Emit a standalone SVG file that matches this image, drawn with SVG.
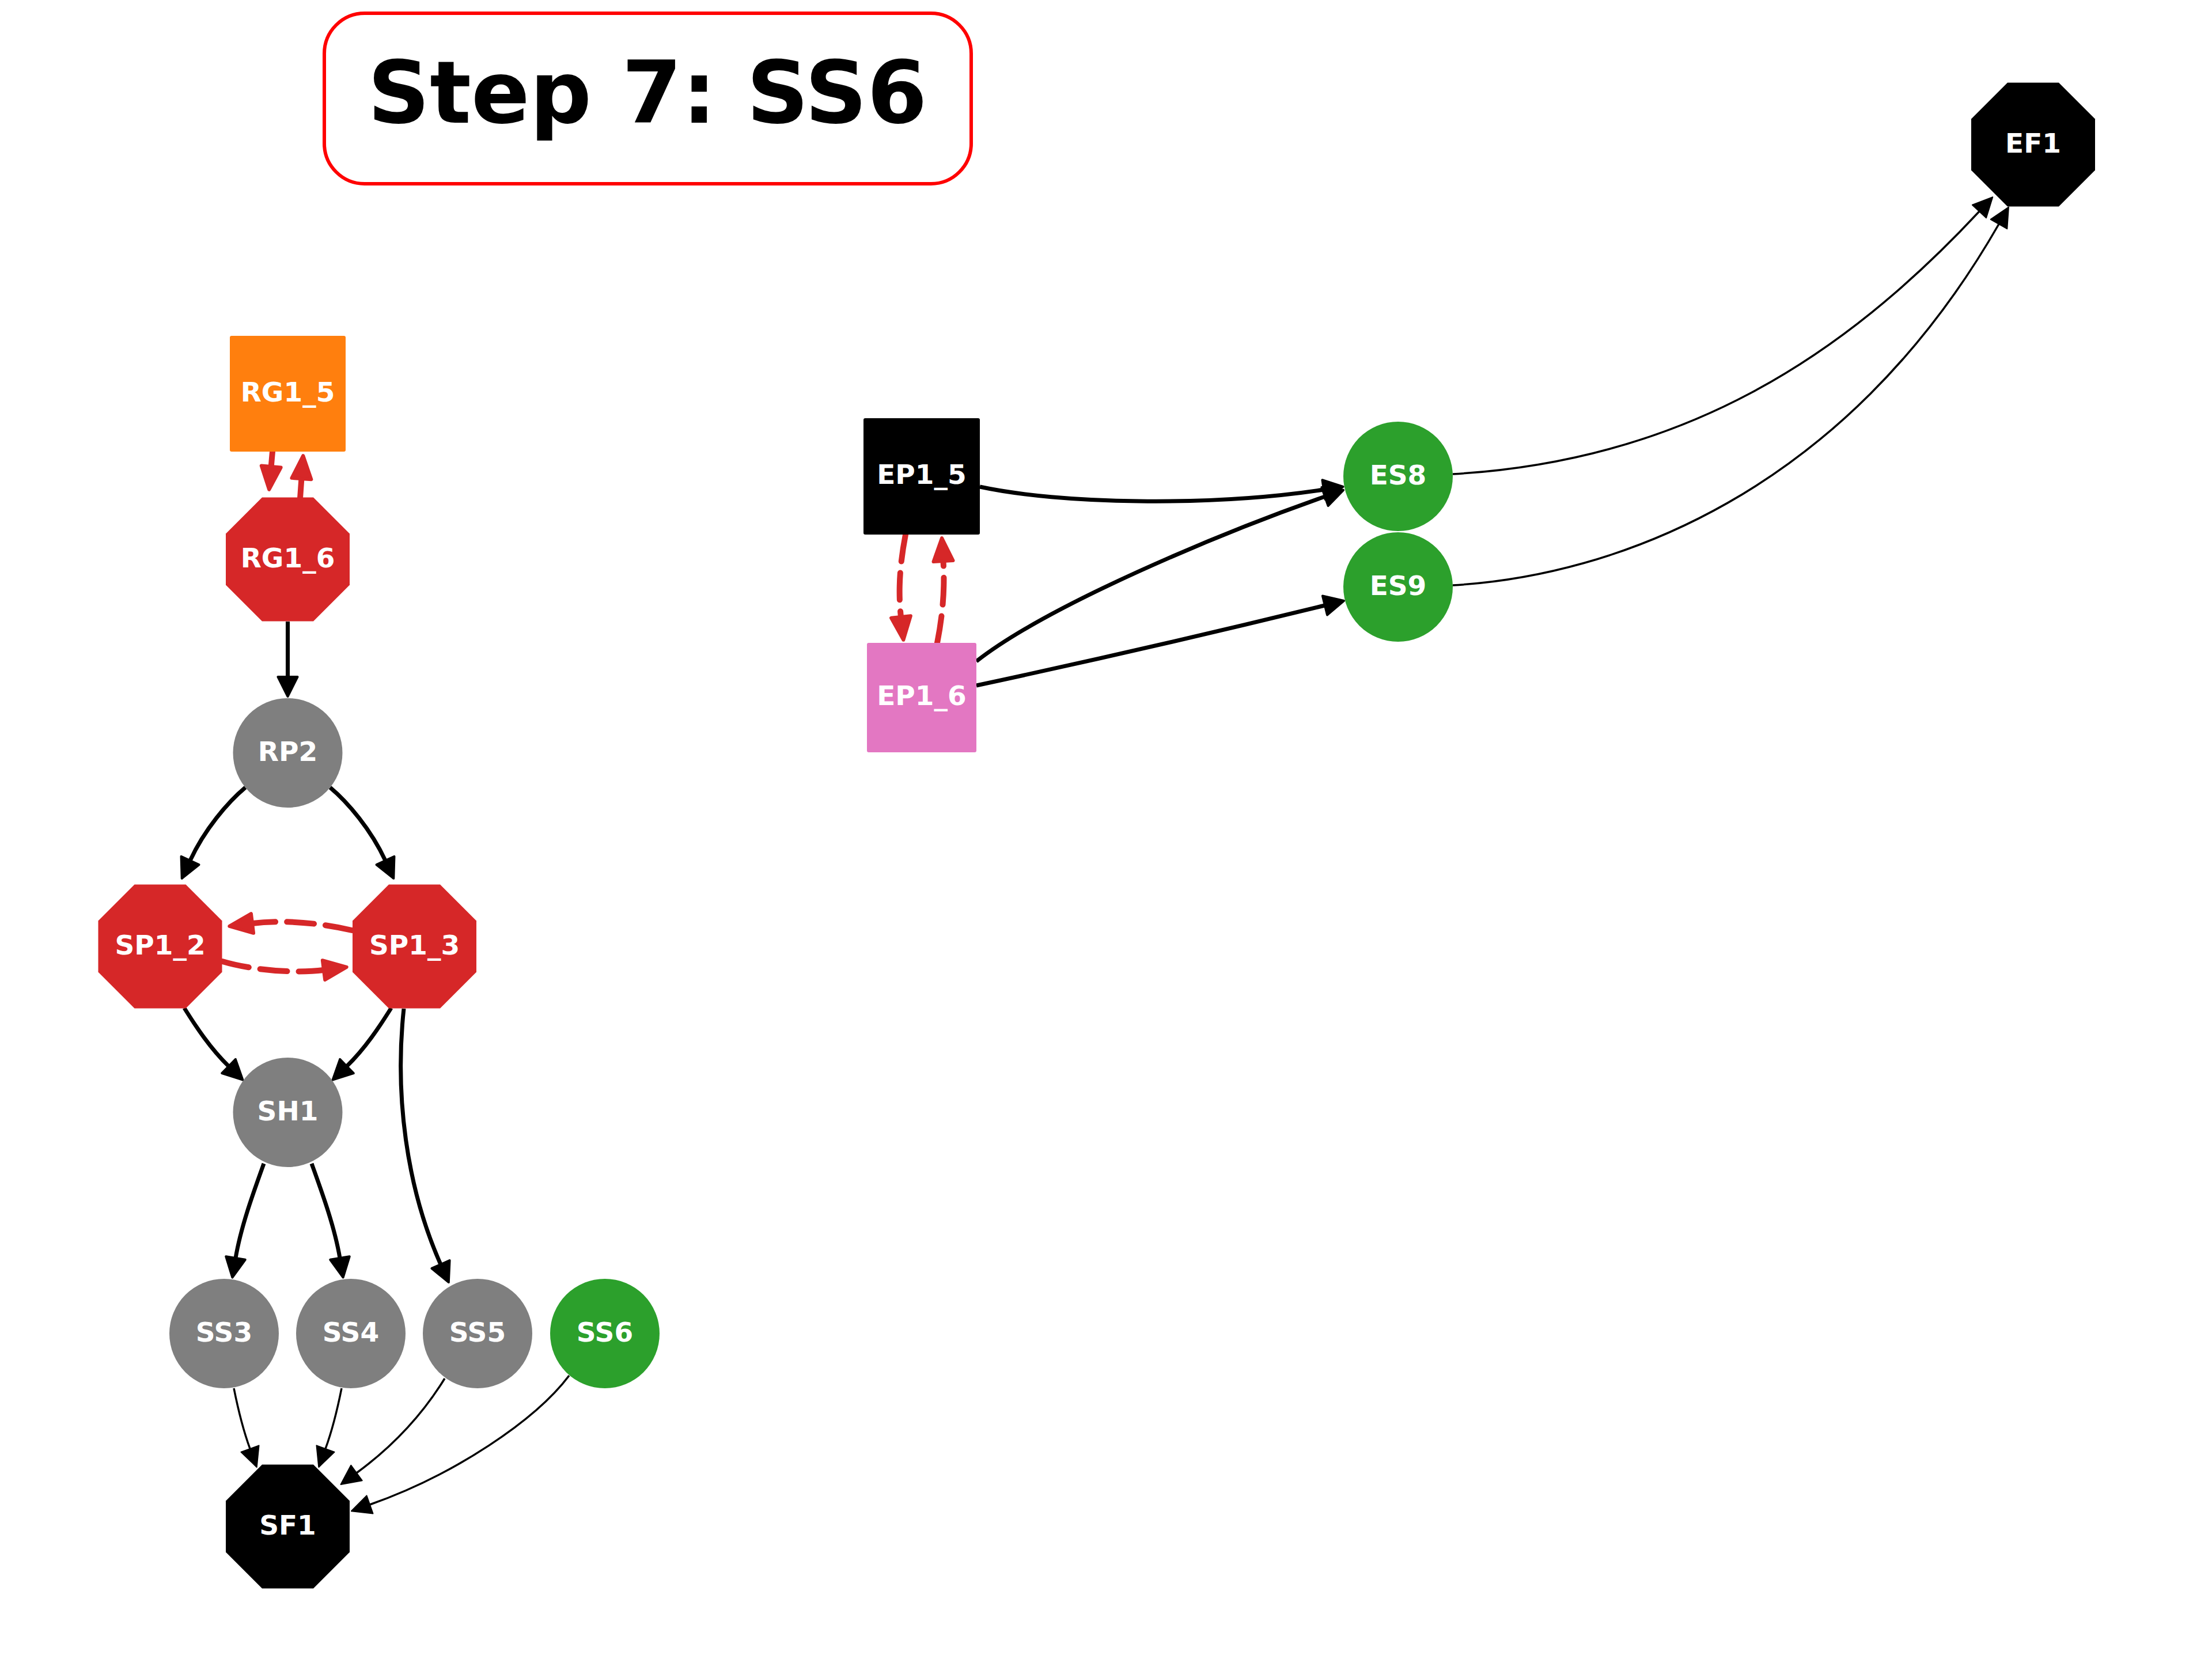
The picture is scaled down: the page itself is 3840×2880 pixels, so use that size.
<svg xmlns="http://www.w3.org/2000/svg" xmlns:xlink="http://www.w3.org/1999/xlink" width="3840" height="2880" viewBox="0 0 3840 2880">
<style>
  .lbl { font-family: "DejaVu Sans", "Liberation Sans", sans-serif; font-weight: bold; font-size: 47px; fill: #ffffff; text-anchor: middle; }
  .title { font-family: "DejaVu Sans", "Liberation Sans", sans-serif; font-weight: bold; font-size: 150px; fill: #000000; text-anchor: middle; }
  .gray { fill: #7f7f7f; }
  .green { fill: #2ca02c; }
  .red { fill: #d62728; }
  .orange { fill: #ff7f0e; }
  .pink { fill: #e377c2; }
  .black { fill: #000000; }
  .thick { fill: none; stroke: #000000; stroke-width: 7; marker-end: url(#arrThick); }
  .thin { fill: none; stroke: #000000; stroke-width: 3.5; marker-end: url(#arrThin); }
  .dash { fill: none; stroke: #d62728; stroke-width: 10; stroke-dasharray: 47 20; stroke-linecap: round; marker-end: url(#arrRed); }
</style>
<defs>
  <polygon id="oct" points="-44.5,-107.5 44.5,-107.5 107.5,-44.5 107.5,44.5 44.5,107.5 -44.5,107.5 -107.5,44.5 -107.5,-44.5"/>
  <marker id="arrThick" markerUnits="userSpaceOnUse" orient="auto" refX="0" refY="0" markerWidth="60" markerHeight="60" overflow="visible">
    <path d="M0,-17 L34,0 L0,17 Z" fill="#000000" stroke="#000000" stroke-width="4" stroke-linejoin="round"/>
  </marker>
  <marker id="arrThin" markerUnits="userSpaceOnUse" orient="auto" refX="0" refY="0" markerWidth="60" markerHeight="60" overflow="visible">
    <path d="M0,-16.5 L34,0 L0,16.5 Z" fill="#000000" stroke="#000000" stroke-width="2" stroke-linejoin="round"/>
  </marker>
  <marker id="arrRed" markerUnits="userSpaceOnUse" orient="auto" refX="0" refY="0" markerWidth="60" markerHeight="60" overflow="visible">
    <path d="M0,-17 L40,0 L0,17 Z" fill="#d62728" stroke="#d62728" stroke-width="6" stroke-linejoin="round"/>
  </marker>
</defs>
<rect width="3840" height="2880" fill="#ffffff"/>

<g id="title">
  <rect x="563" y="23" width="1123" height="296" rx="70" ry="70" fill="#ffffff" stroke="#ff0000" stroke-width="6"/>
  <text class="title" x="1124" y="213">Step 7: SS6</text>
</g>

<g id="edges">
  <path class="dash" d="M473,784 L470.7,810"/>
  <path class="dash" d="M521,865 L523.4,831"/>
  <path class="thick" d="M499.5,1079 L499.5,1175"/>
  <path class="thick" d="M426,1367 C395,1393 355,1440 330,1494"/>
  <path class="thick" d="M573,1367 C604,1393 644,1440 669,1494"/>
  <path class="dash" d="M386,1669 C440,1685 515,1690 562,1684"/>
  <path class="dash" d="M611,1615 C560,1603 495,1596 438,1603"/>
  <path class="thick" d="M320,1750 C340,1782 365,1820 397,1851"/>
  <path class="thick" d="M679,1750 C659,1782 634,1820 602,1851"/>
  <path class="thick" d="M701,1751 C685,1900 705,2060 765,2195"/>
  <path class="thick" d="M458,2020 C440,2070 418,2130 409,2184"/>
  <path class="thick" d="M541,2020 C559,2070 581,2130 590,2184"/>
  <path class="thin" d="M406,2410 C414,2450 423,2485 434,2515"/>
  <path class="thin" d="M593,2410 C585,2450 576,2485 565,2515"/>
  <path class="thin" d="M772,2393 C740,2445 690,2505 619,2557"/>
  <path class="thin" d="M988,2388 C930,2465 790,2560 642,2612"/>
  <path class="dash" d="M1572,928 C1562,980 1559,1025 1564,1071"/>
  <path class="dash" d="M1627,1116 C1638,1060 1640,1015 1637.5,974"/>
  <path class="thick" d="M1701,845 C1840,875 2100,880 2298,850"/>
  <path class="thick" d="M1695,1148 C1820,1050 2120,925 2300,862"/>
  <path class="thick" d="M1695,1190 C1900,1146 2100,1100 2300,1051"/>
  <path class="thin" d="M2522,823 C2922,800 3198,622 3436,367"/>
  <path class="thin" d="M2522,1016 C2800,1000 3200,860 3470,389"/>
</g>

<g id="RG1_5"><rect class="orange" x="399" y="583" width="201" height="201" rx="3"/><text class="lbl" x="499.5" y="697">RG1_5</text></g>
<g id="RG1_6"><use xlink:href="#oct" href="#oct" class="red" x="499.5" y="971"/><text class="lbl" x="499.5" y="985">RG1_6</text></g>
<g id="RP2"><circle class="gray" cx="499.5" cy="1307" r="95"/><text class="lbl" x="499.5" y="1321">RP2</text></g>
<g id="SP1_2"><use xlink:href="#oct" href="#oct" class="red" x="278" y="1643"/><text class="lbl" x="278" y="1657">SP1_2</text></g>
<g id="SP1_3"><use xlink:href="#oct" href="#oct" class="red" x="719.5" y="1643"/><text class="lbl" x="719.5" y="1657">SP1_3</text></g>
<g id="SH1"><circle class="gray" cx="499.5" cy="1931" r="95"/><text class="lbl" x="499.5" y="1945">SH1</text></g>
<g id="SS3"><circle class="gray" cx="389" cy="2315" r="95"/><text class="lbl" x="389" y="2329">SS3</text></g>
<g id="SS4"><circle class="gray" cx="609" cy="2315" r="95"/><text class="lbl" x="609" y="2329">SS4</text></g>
<g id="SS5"><circle class="gray" cx="829" cy="2315" r="95"/><text class="lbl" x="829" y="2329">SS5</text></g>
<g id="SS6"><circle class="green" cx="1050" cy="2315" r="95"/><text class="lbl" x="1050" y="2329">SS6</text></g>
<g id="SF1"><use xlink:href="#oct" href="#oct" class="black" x="499.5" y="2650"/><text class="lbl" x="499.5" y="2664">SF1</text></g>
<g id="EP1_5"><rect class="black" x="1499" y="726" width="202" height="202" rx="3"/><text class="lbl" x="1600" y="840">EP1_5</text></g>
<g id="EP1_6"><rect class="pink" x="1505" y="1116" width="190" height="190" rx="3"/><text class="lbl" x="1600" y="1224">EP1_6</text></g>
<g id="ES8"><circle class="green" cx="2427" cy="827" r="95"/><text class="lbl" x="2427" y="841">ES8</text></g>
<g id="ES9"><circle class="green" cx="2427" cy="1019" r="95"/><text class="lbl" x="2427" y="1033">ES9</text></g>
<g id="EF1"><use xlink:href="#oct" href="#oct" class="black" x="3529.5" y="251"/><text class="lbl" x="3529.5" y="265">EF1</text></g>
</svg>
